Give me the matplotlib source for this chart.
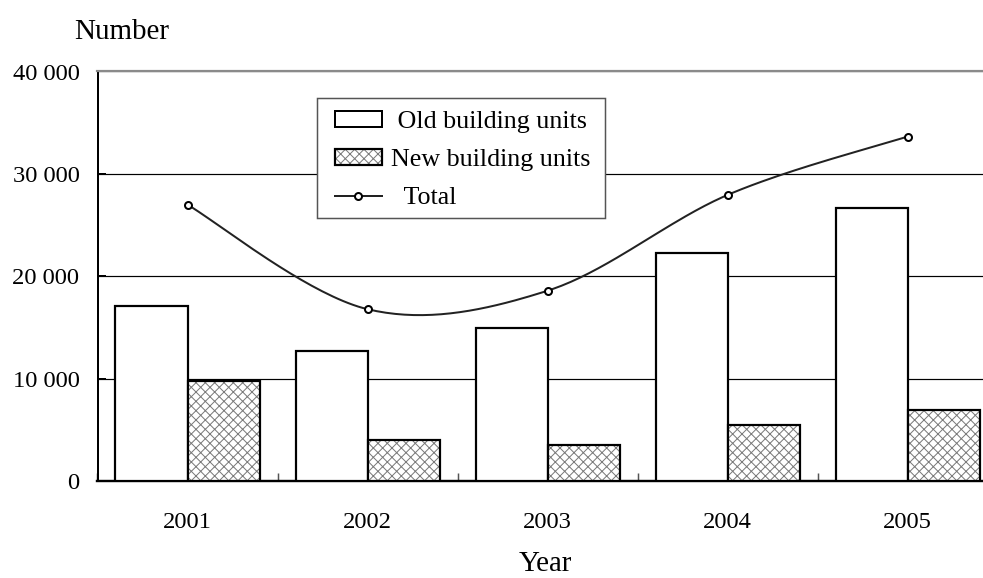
import numpy as np
import matplotlib
matplotlib.use("Agg")
import matplotlib.pyplot as plt
from matplotlib.legend_handler import HandlerTuple
from matplotlib.lines import Line2D
from matplotlib.patches import Rectangle

years = ["2001", "2002", "2003", "2004", "2005"]
old_units = [17150, 12700, 15000, 22250, 26700]
new_units = [9750, 4050, 3550, 5450, 7000]
total_units = [27000, 16800, 18600, 27950, 33650]
yticks = [0, 10000, 20000, 30000, 40000]
ytick_labels = ["0", "10 000", "20 000", "30 000", "40 000"]

DPI = 140
W, H = 983, 578
PX = 72.0 / DPI  # points per pixel

plt.rcParams["font.family"] = ["Liberation Serif", "DejaVu Serif"]
plt.rcParams["hatch.linewidth"] = 1.0 * PX

fig = plt.figure(figsize=(W / DPI, H / DPI), dpi=DPI)
ax = fig.add_axes([97.5 / W, (H - 481.3) / H, 900 / W, (481.3 - 71.5) / H])

x = np.arange(len(years))
bw = 0.4

ax.bar(x - bw / 2, old_units, width=bw, color="white", edgecolor="black",
       linewidth=2.2 * PX, zorder=3)
hb = ax.bar(x + bw / 2, new_units, width=bw, color="white", edgecolor="#7a7a7a",
            hatch="xxxxx", linewidth=0, zorder=3)
ob = ax.bar(x + bw / 2, new_units, width=bw, fill=False, edgecolor="black",
            linewidth=2.2 * PX, zorder=3.1)

# Smoothed line (Excel-style Bezier) through the total points
pts = np.column_stack([x.astype(float), np.array(total_units, float)])
curve = []
n = len(pts)
t = np.linspace(0, 1, 40)
for i in range(n - 1):
    p0 = pts[i - 1] if i > 0 else pts[i]
    p1 = pts[i]
    p2 = pts[i + 1]
    p3 = pts[i + 2] if i + 2 < n else pts[i + 1]
    c1 = p1 + (p2 - p0) / 6.0
    c2 = p2 - (p3 - p1) / 6.0
    seg = ((1 - t) ** 3)[:, None] * p1 + (3 * (1 - t) ** 2 * t)[:, None] * c1 \
        + (3 * (1 - t) * t ** 2)[:, None] * c2 + (t ** 3)[:, None] * p2
    curve.append(seg)
curve = np.vstack(curve)
ax.plot(curve[:, 0], curve[:, 1], color="#222222", linewidth=2 * PX, zorder=4)
ax.plot(x, total_units, linestyle="none", marker="o", markersize=7 * PX,
        markerfacecolor="white", markeredgecolor="black",
        markeredgewidth=2 * PX, zorder=5)

ax.set_xlim(-0.5, 4.5)
ax.set_ylim(0, 40000)
ax.set_yticks(yticks)
ax.set_yticklabels(ytick_labels)
ax.yaxis.grid(True, color="black", linewidth=1.2 * PX, zorder=1)
ax.set_axisbelow(True)

ax.set_xticks(np.arange(-0.5, 5.0, 1.0))
ax.set_xticklabels([])
ax.set_xticks(x, minor=True)
ax.set_xticklabels(years, minor=True)
ax.tick_params(axis="x", which="major", direction="in", length=8 * PX,
               width=1.5 * PX, color="#555555")
ax.tick_params(axis="x", which="minor", length=0, pad=30.5 * PX,
               labelsize=24.5 * PX)
ax.tick_params(axis="y", direction="in", length=8 * PX, width=2 * PX,
               pad=18 * PX, labelsize=24.5 * PX)

ax.spines["right"].set_visible(False)
ax.spines["top"].set_color("#8a8a8a")
ax.spines["top"].set_linewidth(2.2 * PX)
ax.spines["left"].set_linewidth(2 * PX)
ax.spines["bottom"].set_linewidth(2.4 * PX)

fig.text(74 / W, (H - 39.3) / H, "Number", fontsize=29 * PX,
         ha="left", va="baseline")
fig.text(545 / W, 0.8 / H, "Year", fontsize=29 * PX,
         ha="center", va="bottom")

# Legend frame drawn separately
frame = Rectangle((316.7 / W, 1 - 218.3 / H), (605 - 316.7) / W,
                  (218.3 - 98.3) / H, transform=fig.transFigure,
                  facecolor="white", edgecolor="#555555",
                  linewidth=1.5 * PX, zorder=6)
ax.add_artist(frame)
frame.set_clip_on(False)

h_old = Rectangle((0, 0), 1, 1, facecolor="white", edgecolor="black",
                  linewidth=2 * PX)
h_tot = Line2D([], [], color="#222222", linewidth=2 * PX, marker="o",
               markersize=7 * PX, markerfacecolor="white",
               markeredgecolor="black", markeredgewidth=2 * PX)
leg = ax.legend([h_old, (hb[0], ob[0]), h_tot],
                [" Old building units", "New building units", "  Total"],
                handler_map={tuple: HandlerTuple(ndivide=1, pad=0)},
                loc="upper left", bbox_to_anchor=(335 / W, 1 - 111 / H),
                bbox_transform=fig.transFigure, borderaxespad=0,
                fontsize=26 * PX, frameon=False, handlelength=1.8,
                handleheight=0.55, handletextpad=0.35, labelspacing=0.62,
                borderpad=0)
leg.set_zorder(7)

fig.savefig("out.png", dpi=DPI)
